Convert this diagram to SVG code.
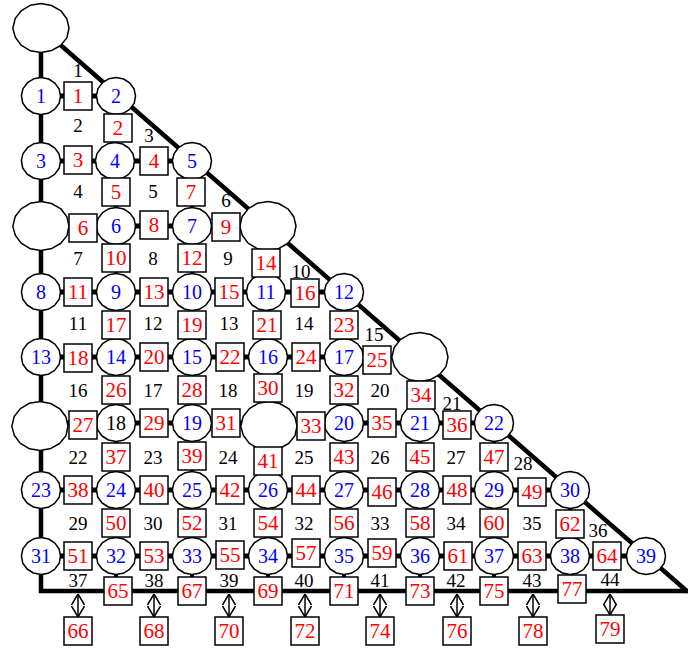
<svg xmlns="http://www.w3.org/2000/svg" width="688" height="648" viewBox="0 0 688 648">
<style>
.nd{fill:#fff;stroke:#000;stroke-width:1.5;stroke-linejoin:round}
.sq{fill:#fff;stroke:#000;stroke-width:1.5}
.bd{stroke:#000;stroke-width:4.5;fill:none;stroke-linecap:butt}
.eh{stroke:#000;stroke-width:5}
.ev{stroke:#000;stroke-width:4}
.ar line{stroke:#000;stroke-width:1.5;fill:none;marker-start:url(#ah);marker-end:url(#ah)}
text{font-family:"Liberation Serif","Times New Roman",serif;font-size:20px;text-anchor:middle;dominant-baseline:central}
.r{fill:#f00;font-size:21px}.b{fill:#00f}.k{fill:#000;font-size:19px}
</style>
<defs>
<path id="c" class="nd" d="M19.5,0 L18.2,7.3 L13.6,13.4 L7.2,17.3 L0,18.6 L-7.6,17.0 L-13.9,13.0 L-18.3,7.0 L-19.6,-0.5 L-18.0,-7.4 L-13.5,-13.3 L-7.3,-17.2 L0.3,-18.5 L7.7,-17.0 L13.9,-12.9 L18.1,-7.0 Z"/>
<path id="B" class="nd" d="M28,0 L26,9.6 L19.6,17.5 L10.9,22.4 L0,24.6 L-10.5,22.8 L-19.9,17.1 L-25.7,9.2 L-28.2,0.4 L-25.8,-9.5 L-19.6,-17.4 L-10.8,-22.7 L0.2,-24.5 L10.6,-22.5 L19.9,-17.2 L25.8,-9.3 Z"/>
<marker id="ah" viewBox="0 0 11 14" refX="11" refY="7" markerWidth="11" markerHeight="14" markerUnits="userSpaceOnUse" orient="auto-start-reverse">
<path d="M0,0.5 L11,7 L0,13.5" fill="none" stroke="#000" stroke-width="1.5"/>
</marker>
</defs>
<g id="connectors">
<path class="bd" d="M41,28 L41,591 L688,591 M41,28 L688,592"/>
<path class="eh" d="M41,96H116 M41,161H192 M41,226H268 M41,292H344 M41,357H420 M41,423H494 M41,490H570 M41,556H646"/>
<path class="ev" d="M116,96V591 M192,161V591 M268,226V591 M344,292V591 M420,357V591 M494,423V591 M570,490V591"/>
<g class="ar">
<line x1="78" y1="594" x2="78" y2="617"/>
<line x1="154" y1="594" x2="154" y2="617"/>
<line x1="229" y1="594" x2="229" y2="617"/>
<line x1="305" y1="594" x2="305" y2="617"/>
<line x1="380" y1="594" x2="380" y2="617"/>
<line x1="457" y1="594" x2="457" y2="617"/>
<line x1="533" y1="594" x2="533" y2="617"/>
<line x1="610" y1="594" x2="610" y2="615"/>
</g>
</g>
<g id="big0"><use href="#B" x="41" y="28"/></g>
<g id="big1"><use href="#B" x="41" y="226"/></g>
<g id="big2"><use href="#B" x="268" y="226"/></g>
<g id="big3"><use href="#B" x="420" y="357"/></g>
<g id="big4"><use href="#B" x="40" y="426"/></g>
<g id="big5"><use href="#B" x="269" y="426"/></g>
<g id="n1"><use href="#c" x="41" y="96"/><text class="b" x="41" y="96">1</text></g>
<g id="n2"><use href="#c" x="116" y="96"/><text class="b" x="116" y="96">2</text></g>
<g id="n3"><use href="#c" x="41" y="161"/><text class="b" x="41" y="161">3</text></g>
<g id="n4"><use href="#c" x="115" y="161"/><text class="b" x="115" y="161">4</text></g>
<g id="n5"><use href="#c" x="192" y="161"/><text class="b" x="192" y="161">5</text></g>
<g id="n6"><use href="#c" x="116" y="226"/><text class="b" x="116" y="226">6</text></g>
<g id="n7"><use href="#c" x="192" y="226"/><text class="b" x="192" y="226">7</text></g>
<g id="n8"><use href="#c" x="41" y="292"/><text class="b" x="41" y="292">8</text></g>
<g id="n9"><use href="#c" x="116" y="292"/><text class="b" x="116" y="292">9</text></g>
<g id="n10"><use href="#c" x="192" y="292"/><text class="b" x="192" y="292">10</text></g>
<g id="n11"><use href="#c" x="266" y="292"/><text class="b" x="266" y="292">11</text></g>
<g id="n12"><use href="#c" x="344" y="292"/><text class="b" x="344" y="292">12</text></g>
<g id="n13"><use href="#c" x="41" y="357"/><text class="b" x="41" y="357">13</text></g>
<g id="n14"><use href="#c" x="116" y="357"/><text class="b" x="116" y="357">14</text></g>
<g id="n15"><use href="#c" x="192" y="357"/><text class="b" x="192" y="357">15</text></g>
<g id="n16"><use href="#c" x="268" y="357"/><text class="b" x="268" y="357">16</text></g>
<g id="n17"><use href="#c" x="344" y="357"/><text class="b" x="344" y="357">17</text></g>
<g id="n18"><use href="#c" x="116" y="423"/><text x="116" y="423" fill="#000">18</text></g>
<g id="n19"><use href="#c" x="192" y="423"/><text class="b" x="192" y="423">19</text></g>
<g id="n20"><use href="#c" x="344" y="423"/><text class="b" x="344" y="423">20</text></g>
<g id="n21"><use href="#c" x="420" y="423"/><text class="b" x="420" y="423">21</text></g>
<g id="n22"><use href="#c" x="494" y="423"/><text class="b" x="494" y="423">22</text></g>
<g id="n23"><use href="#c" x="41" y="490"/><text class="b" x="41" y="490">23</text></g>
<g id="n24"><use href="#c" x="116" y="490"/><text class="b" x="116" y="490">24</text></g>
<g id="n25"><use href="#c" x="192" y="490"/><text class="b" x="192" y="490">25</text></g>
<g id="n26"><use href="#c" x="268" y="490"/><text class="b" x="268" y="490">26</text></g>
<g id="n27"><use href="#c" x="344" y="490"/><text class="b" x="344" y="490">27</text></g>
<g id="n28"><use href="#c" x="420" y="490"/><text class="b" x="420" y="490">28</text></g>
<g id="n29"><use href="#c" x="494" y="490"/><text class="b" x="494" y="490">29</text></g>
<g id="n30"><use href="#c" x="570" y="490"/><text class="b" x="570" y="490">30</text></g>
<g id="n31"><use href="#c" x="41" y="556"/><text class="b" x="41" y="556">31</text></g>
<g id="n32"><use href="#c" x="116" y="556"/><text class="b" x="116" y="556">32</text></g>
<g id="n33"><use href="#c" x="192" y="556"/><text class="b" x="192" y="556">33</text></g>
<g id="n34"><use href="#c" x="268" y="556"/><text class="b" x="268" y="556">34</text></g>
<g id="n35"><use href="#c" x="344" y="556"/><text class="b" x="344" y="556">35</text></g>
<g id="n36"><use href="#c" x="420" y="556"/><text class="b" x="420" y="556">36</text></g>
<g id="n37"><use href="#c" x="494" y="556"/><text class="b" x="494" y="556">37</text></g>
<g id="n38"><use href="#c" x="570" y="556"/><text class="b" x="570" y="556">38</text></g>
<g id="n39"><use href="#c" x="646" y="556"/><text class="b" x="646" y="556">39</text></g>
<g id="s1"><rect class="sq" x="64" y="82" width="28" height="28"/><text class="r" x="78" y="96">1</text></g>
<g id="s2"><rect class="sq" x="104" y="114" width="28" height="28"/><text class="r" x="118" y="128">2</text></g>
<g id="s3"><rect class="sq" x="64" y="146" width="28" height="28"/><text class="r" x="78" y="160">3</text></g>
<g id="s4"><rect class="sq" x="140" y="147" width="28" height="28"/><text class="r" x="154" y="161">4</text></g>
<g id="s5"><rect class="sq" x="102" y="178" width="28" height="28"/><text class="r" x="116" y="192">5</text></g>
<g id="s6"><rect class="sq" x="69" y="214" width="28" height="28"/><text class="r" x="83" y="228">6</text></g>
<g id="s7"><rect class="sq" x="177" y="178" width="28" height="28"/><text class="r" x="191" y="192">7</text></g>
<g id="s8"><rect class="sq" x="140" y="211" width="28" height="28"/><text class="r" x="154" y="225">8</text></g>
<g id="s9"><rect class="sq" x="212" y="213" width="28" height="28"/><text class="r" x="226" y="227">9</text></g>
<g id="s10"><rect class="sq" x="102" y="244" width="28" height="28"/><text class="r" x="116" y="258">10</text></g>
<g id="s11"><rect class="sq" x="64" y="278" width="28" height="28"/><text class="r" x="78" y="292">11</text></g>
<g id="s12"><rect class="sq" x="178" y="244" width="28" height="28"/><text class="r" x="192" y="258">12</text></g>
<g id="s13"><rect class="sq" x="140" y="278" width="28" height="28"/><text class="r" x="154" y="292">13</text></g>
<g id="s14"><rect class="sq" x="252" y="249" width="28" height="28"/><text class="r" x="266" y="263">14</text></g>
<g id="s15"><rect class="sq" x="215" y="278" width="28" height="28"/><text class="r" x="229" y="292">15</text></g>
<g id="s16"><rect class="sq" x="291" y="279" width="28" height="28"/><text class="r" x="305" y="293">16</text></g>
<g id="s17"><rect class="sq" x="102" y="311" width="28" height="28"/><text class="r" x="116" y="325">17</text></g>
<g id="s18"><rect class="sq" x="64" y="344" width="28" height="28"/><text class="r" x="78" y="358">18</text></g>
<g id="s19"><rect class="sq" x="178" y="311" width="28" height="28"/><text class="r" x="192" y="325">19</text></g>
<g id="s20"><rect class="sq" x="140" y="343" width="28" height="28"/><text class="r" x="154" y="357">20</text></g>
<g id="s21"><rect class="sq" x="253" y="311" width="28" height="28"/><text class="r" x="267" y="325">21</text></g>
<g id="s22"><rect class="sq" x="216" y="343" width="28" height="28"/><text class="r" x="230" y="357">22</text></g>
<g id="s23"><rect class="sq" x="330" y="311" width="28" height="28"/><text class="r" x="344" y="325">23</text></g>
<g id="s24"><rect class="sq" x="292" y="343" width="28" height="28"/><text class="r" x="306" y="357">24</text></g>
<g id="s25"><rect class="sq" x="363" y="346" width="28" height="28"/><text class="r" x="377" y="360">25</text></g>
<g id="s26"><rect class="sq" x="102" y="376" width="28" height="28"/><text class="r" x="116" y="390">26</text></g>
<g id="s27"><rect class="sq" x="69" y="411" width="28" height="28"/><text class="r" x="83" y="425">27</text></g>
<g id="s28"><rect class="sq" x="178" y="376" width="28" height="28"/><text class="r" x="192" y="390">28</text></g>
<g id="s29"><rect class="sq" x="140" y="409" width="28" height="28"/><text class="r" x="154" y="423">29</text></g>
<g id="s30"><rect class="sq" x="254" y="374" width="28" height="28"/><text class="r" x="268" y="388">30</text></g>
<g id="s31"><rect class="sq" x="212" y="409" width="28" height="28"/><text class="r" x="226" y="423">31</text></g>
<g id="s32"><rect class="sq" x="330" y="376" width="28" height="28"/><text class="r" x="344" y="390">32</text></g>
<g id="s33"><rect class="sq" x="297" y="412" width="28" height="28"/><text class="r" x="311" y="426">33</text></g>
<g id="s34"><rect class="sq" x="407" y="381" width="28" height="28"/><text class="r" x="421" y="395">34</text></g>
<g id="s35"><rect class="sq" x="368" y="409" width="28" height="28"/><text class="r" x="382" y="423">35</text></g>
<g id="s36"><rect class="sq" x="443" y="411" width="28" height="28"/><text class="r" x="457" y="425">36</text></g>
<g id="s37"><rect class="sq" x="102" y="443" width="28" height="28"/><text class="r" x="116" y="457">37</text></g>
<g id="s38"><rect class="sq" x="64" y="476" width="28" height="28"/><text class="r" x="78" y="490">38</text></g>
<g id="s39"><rect class="sq" x="178" y="442" width="28" height="28"/><text class="r" x="192" y="456">39</text></g>
<g id="s40"><rect class="sq" x="140" y="476" width="28" height="28"/><text class="r" x="154" y="490">40</text></g>
<g id="s41"><rect class="sq" x="254" y="447" width="28" height="28"/><text class="r" x="268" y="461">41</text></g>
<g id="s42"><rect class="sq" x="216" y="476" width="28" height="28"/><text class="r" x="230" y="490">42</text></g>
<g id="s43"><rect class="sq" x="330" y="443" width="28" height="28"/><text class="r" x="344" y="457">43</text></g>
<g id="s44"><rect class="sq" x="292" y="476" width="28" height="28"/><text class="r" x="306" y="490">44</text></g>
<g id="s45"><rect class="sq" x="406" y="443" width="28" height="28"/><text class="r" x="420" y="457">45</text></g>
<g id="s46"><rect class="sq" x="368" y="478" width="28" height="28"/><text class="r" x="382" y="492">46</text></g>
<g id="s47"><rect class="sq" x="480" y="443" width="28" height="28"/><text class="r" x="494" y="457">47</text></g>
<g id="s48"><rect class="sq" x="443" y="476" width="28" height="28"/><text class="r" x="457" y="490">48</text></g>
<g id="s49"><rect class="sq" x="518" y="478" width="28" height="28"/><text class="r" x="532" y="492">49</text></g>
<g id="s50"><rect class="sq" x="102" y="509" width="28" height="28"/><text class="r" x="116" y="523">50</text></g>
<g id="s51"><rect class="sq" x="64" y="542" width="28" height="28"/><text class="r" x="78" y="556">51</text></g>
<g id="s52"><rect class="sq" x="178" y="509" width="28" height="28"/><text class="r" x="192" y="523">52</text></g>
<g id="s53"><rect class="sq" x="140" y="542" width="28" height="28"/><text class="r" x="154" y="556">53</text></g>
<g id="s54"><rect class="sq" x="254" y="509" width="28" height="28"/><text class="r" x="268" y="523">54</text></g>
<g id="s55"><rect class="sq" x="216" y="541" width="28" height="28"/><text class="r" x="230" y="555">55</text></g>
<g id="s56"><rect class="sq" x="330" y="509" width="28" height="28"/><text class="r" x="344" y="523">56</text></g>
<g id="s57"><rect class="sq" x="292" y="539" width="28" height="28"/><text class="r" x="306" y="553">57</text></g>
<g id="s58"><rect class="sq" x="406" y="509" width="28" height="28"/><text class="r" x="420" y="523">58</text></g>
<g id="s59"><rect class="sq" x="368" y="539" width="28" height="28"/><text class="r" x="382" y="553">59</text></g>
<g id="s60"><rect class="sq" x="480" y="509" width="28" height="28"/><text class="r" x="494" y="523">60</text></g>
<g id="s61"><rect class="sq" x="444" y="542" width="28" height="28"/><text class="r" x="458" y="556">61</text></g>
<g id="s62"><rect class="sq" x="556" y="510" width="28" height="28"/><text class="r" x="570" y="524">62</text></g>
<g id="s63"><rect class="sq" x="518" y="542" width="28" height="28"/><text class="r" x="532" y="556">63</text></g>
<g id="s64"><rect class="sq" x="593" y="542" width="28" height="28"/><text class="r" x="607" y="556">64</text></g>
<g id="s65"><rect class="sq" x="104" y="577" width="28" height="28"/><text class="r" x="118" y="591">65</text></g>
<g id="s66"><rect class="sq" x="64" y="617" width="28" height="28"/><text class="r" x="78" y="631">66</text></g>
<g id="s67"><rect class="sq" x="178" y="577" width="28" height="28"/><text class="r" x="192" y="591">67</text></g>
<g id="s68"><rect class="sq" x="140" y="617" width="28" height="28"/><text class="r" x="154" y="631">68</text></g>
<g id="s69"><rect class="sq" x="254" y="577" width="28" height="28"/><text class="r" x="268" y="591">69</text></g>
<g id="s70"><rect class="sq" x="215" y="617" width="28" height="28"/><text class="r" x="229" y="631">70</text></g>
<g id="s71"><rect class="sq" x="330" y="577" width="28" height="28"/><text class="r" x="344" y="591">71</text></g>
<g id="s72"><rect class="sq" x="291" y="617" width="28" height="28"/><text class="r" x="305" y="631">72</text></g>
<g id="s73"><rect class="sq" x="406" y="577" width="28" height="28"/><text class="r" x="420" y="591">73</text></g>
<g id="s74"><rect class="sq" x="366" y="617" width="28" height="28"/><text class="r" x="380" y="631">74</text></g>
<g id="s75"><rect class="sq" x="480" y="577" width="28" height="28"/><text class="r" x="494" y="591">75</text></g>
<g id="s76"><rect class="sq" x="443" y="617" width="28" height="28"/><text class="r" x="457" y="631">76</text></g>
<g id="s77"><rect class="sq" x="558" y="575" width="28" height="28"/><text class="r" x="572" y="589">77</text></g>
<g id="s78"><rect class="sq" x="519" y="617" width="28" height="28"/><text class="r" x="533" y="631">78</text></g>
<g id="s79"><rect class="sq" x="596" y="615" width="28" height="28"/><text class="r" x="610" y="629">79</text></g>
<g id="faces">
<text class="k" x="78" y="70">1</text>
<text class="k" x="78" y="125">2</text>
<text class="k" x="149" y="135">3</text>
<text class="k" x="78" y="191">4</text>
<text class="k" x="153" y="191">5</text>
<text class="k" x="226" y="200">6</text>
<text class="k" x="78" y="258">7</text>
<text class="k" x="153" y="258">8</text>
<text class="k" x="228" y="258">9</text>
<text class="k" x="301" y="271">10</text>
<text class="k" x="78" y="323">11</text>
<text class="k" x="153" y="323">12</text>
<text class="k" x="229" y="323">13</text>
<text class="k" x="304" y="323">14</text>
<text class="k" x="374" y="334">15</text>
<text class="k" x="78" y="390">16</text>
<text class="k" x="153" y="390">17</text>
<text class="k" x="228" y="390">18</text>
<text class="k" x="304" y="390">19</text>
<text class="k" x="380" y="390">20</text>
<text class="k" x="452" y="403">21</text>
<text class="k" x="78" y="457">22</text>
<text class="k" x="153" y="457">23</text>
<text class="k" x="228" y="457">24</text>
<text class="k" x="304" y="457">25</text>
<text class="k" x="380" y="457">26</text>
<text class="k" x="456" y="457">27</text>
<text class="k" x="523" y="463">28</text>
<text class="k" x="78" y="523">29</text>
<text class="k" x="153" y="523">30</text>
<text class="k" x="228" y="523">31</text>
<text class="k" x="304" y="523">32</text>
<text class="k" x="380" y="523">33</text>
<text class="k" x="456" y="523">34</text>
<text class="k" x="532" y="523">35</text>
<text class="k" x="598" y="530">36</text>
<text class="k" x="78" y="580">37</text>
<text class="k" x="154" y="580">38</text>
<text class="k" x="229" y="580">39</text>
<text class="k" x="304" y="580">40</text>
<text class="k" x="380" y="580">41</text>
<text class="k" x="456" y="580">42</text>
<text class="k" x="532" y="580">43</text>
<text class="k" x="610" y="579">44</text>
</g>
</svg>
